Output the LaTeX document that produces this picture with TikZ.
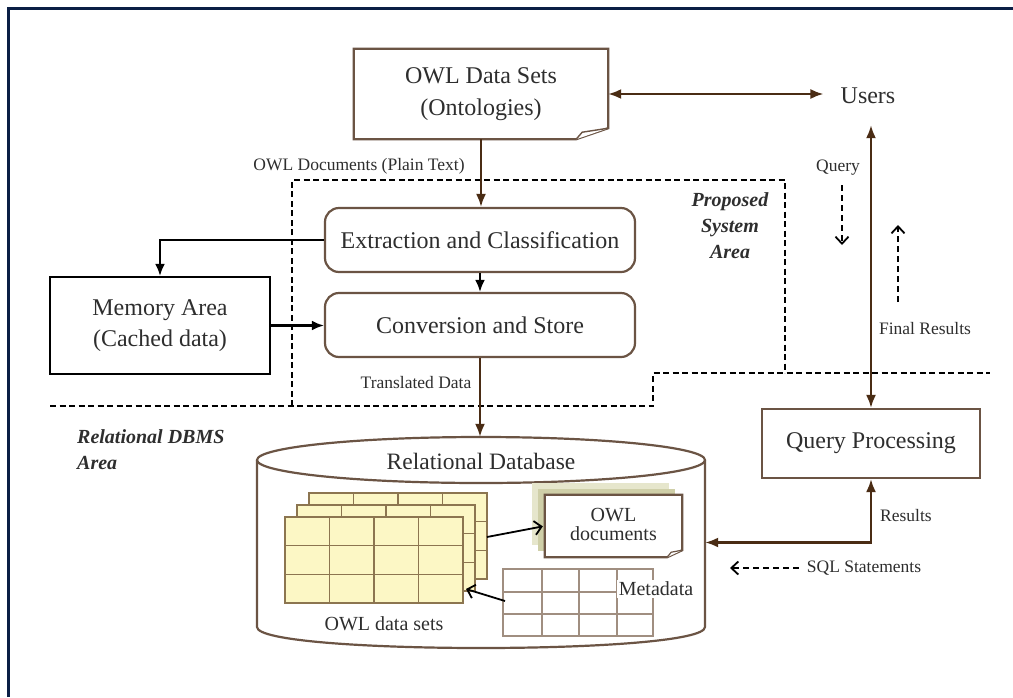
\documentclass[tikz,border=0pt]{standalone}
\usepackage{fontspec}
\setmainfont{Liberation Serif}
\usetikzlibrary{arrows.meta,calc}
\definecolor{frameblue}{HTML}{0B1F45}
\definecolor{darkbrown}{HTML}{4A2C14}
\definecolor{boxbrown}{HTML}{6B5444}
\definecolor{tablefill}{HTML}{FCF7C5}
\definecolor{tableline}{HTML}{8C7550}
\definecolor{metaline}{HTML}{A08E80}
\definecolor{shadelight}{HTML}{E6E6CC}
\definecolor{shadedark}{HTML}{CFCFA8}
\definecolor{inkgrey}{HTML}{2E2E2E}

\begin{document}
\begin{tikzpicture}[x=1pt,y=-1pt,
  every node/.style={text=inkgrey, inner sep=0pt},
  bigtext/.style={font=\fontsize{24}{32}\selectfont},
  midtext/.style={font=\fontsize{20}{19}\selectfont},
  smalltext/.style={font=\fontsize{17.5}{21}\selectfont},
  areatext/.style={font=\fontsize{20}{26}\selectfont\bfseries\itshape},
  roundbox/.style={draw=boxbrown, line width=2.2pt, rounded corners=14pt,
    minimum width=310pt, minimum height=64pt, bigtext},
  squarebox/.style={line width=2.2pt, bigtext, align=center},
  docline/.style={draw=boxbrown, line width=2.2pt, line join=miter},
  flow/.style={draw=darkbrown, line width=2.2pt, -{Latex[length=13pt,width=10pt]}},
  flowboth/.style={draw=darkbrown, line width=2.2pt,
    {Latex[length=13pt,width=10pt]}-{Latex[length=13pt,width=10pt]}},
  blackflow/.style={draw=black, line width=2.2pt, -{Latex[length=12pt,width=10pt]}},
  thinflow/.style={draw=black, line width=1.8pt, -{Straight Barb[length=7pt,width=14pt]}},
  hint/.style={draw=black, line width=1.8pt, dash pattern=on 6pt off 4pt,
    -{Straight Barb[length=7pt,width=13pt]}},
  zone/.style={draw=black, line width=1.6pt, dash pattern=on 6pt off 3.5pt},
  grid/.style={draw=tableline, line width=1.6pt},
]
\useasboundingbox (0,0) rectangle (1013,697);
\fill[white] (0,0) rectangle (1013,697);

% outer frame (top and left edges)
\draw[frameblue, line width=3pt] (8.5,697) -- (8.5,8.5) -- (1013,8.5);

% area boundaries
\draw[zone] (292,406) -- (292,180) -- (785,180) -- (785,373);
\draw[zone] (50,406) -- (653,406) -- (653,373) -- (990,373);

% OWL data sets document
\node[bigtext, align=center, minimum width=254pt, minimum height=90pt] (owl) at (481,94) {};
\draw[docline, fill=white] (owl.north west) -- (owl.north east) -- ($(owl.south east)+(0,-11)$)
  -- ($(owl.south east)+(-32,0)$) -- (owl.south west) -- cycle;
\draw[boxbrown, line width=1.4pt, fill=white] ($(owl.south east)+(-32,0)$) -- ($(owl.south east)+(-26,-7)$)
  -- ($(owl.south east)+(0,-11)$);
\node[bigtext, align=center] at (owl.center) {OWL Data Sets\\(Ontologies)};

% processing boxes
\node[roundbox] (ext) at (480,240) {Extraction and Classification};
\node[roundbox] (conv) at (480,325) {Conversion and Store};
\node[squarebox, draw=black, minimum width=220pt, minimum height=97pt,
  font=\fontsize{24}{31}\selectfont] (mem) at (160,325.5) {Memory Area\\(Cached data)};
\node[squarebox, draw=boxbrown, minimum width=218pt, minimum height=69pt] (qp) at (871,443.5) {Query Processing};
\node[bigtext, minimum height=58pt, inner xsep=17pt] (users) at (868,96) {Users};

% area captions
\node[areatext, align=center] (proparea) at (730,226) {Proposed\\System\\Area};
\node[areatext, align=left, anchor=west] (dbmsarea) at (77,450) {Relational DBMS\\Area};

% relational database cylinder
\node[minimum width=448pt, minimum height=211pt] (db) at (481,542.5) {};
\draw[boxbrown, line width=2.2pt, fill=white] (257,460) -- (257,627) .. controls (257,655) and (705,655) .. (705,627) -- (705,460);
\draw[boxbrown, line width=2.2pt, fill=white] (481,460) ellipse [x radius=224, y radius=23];
\node[font=\fontsize{23.5}{28}\selectfont] (dbtitle) at (481,461) {Relational Database};

% stacked OWL data set tables
\foreach \d in {24,12,0} {
  \begin{scope}[shift={(\d,-\d)}]
    \filldraw[grid, fill=tablefill] (285,517) rectangle (463,603);
    \foreach \c in {1,2,3} \draw[grid] (285+44.5*\c,517) -- (285+44.5*\c,603);
    \foreach \r in {1,2} \draw[grid] (285,517+28.67*\r) -- (463,517+28.67*\r);
  \end{scope}
}
\node[midtext] (setslbl) at (384,624) {OWL data sets};

% metadata table
\draw[metaline, line width=1.5pt] (503,569) rectangle (653,636);
\foreach \cx in {542,579,617} \draw[metaline, line width=1.5pt] (\cx,569) -- (\cx,636);
\foreach \ry in {592,614} \draw[metaline, line width=1.5pt] (503,\ry) -- (653,\ry);
\node[midtext, fill=white, inner sep=1.5pt] (metalbl) at (656,589) {Metadata};

% OWL documents with shadow
\fill[shadelight] (532,483) rectangle (669,545);
\fill[shadedark] (538,489) rectangle (675,551);
\node[minimum width=137pt, minimum height=62pt] (owldoc) at (613.5,526) {};
\draw[docline, fill=white] (owldoc.north west) -- (owldoc.north east) -- ($(owldoc.south east)+(0,-7)$)
  -- ($(owldoc.south east)+(-15,0)$) -- (owldoc.south west) -- cycle;
\draw[boxbrown, line width=1.2pt, fill=white] ($(owldoc.south east)+(-15,0)$) -- ($(owldoc.south east)+(-11,-5)$)
  -- ($(owldoc.south east)+(0,-7)$);
\node[midtext, align=center] at (613.5,524) {OWL\\documents};

% labels
\node[smalltext] (plainlbl) at (359,166) {OWL Documents (Plain Text)};
\node[smalltext] (translbl) at (416,383) {Translated Data};
\node[smalltext] (querylbl) at (838,168) {Query};
\node[smalltext] (finallbl) at (925,329) {Final Results};
\node[smalltext] (reslbl) at (906,516) {Results};
\node[smalltext] (sqllbl) at (864,568) {SQL Statements};

% main flow
\draw[flow] (owl.south) -- (owl.south |- ext.north);
\draw[flowboth] (owl.east) -- (owl.east -| users.west);
\draw[blackflow] (ext.south) -- (conv.north);
\draw[blackflow] (ext.west) -| (mem.north);
\draw[blackflow] (mem.east) -- (mem.east -| conv.west);
\draw[flow] (conv.south) -- (conv.south |- db.north);
\draw[flowboth] (qp.north) -- (qp.north |- users.south);
\draw[flowboth] (db.east) -| (qp.south);

% links inside the database
\coordinate (tblout) at (487,537);
\coordinate (tblin) at (466,589);
\coordinate (metaout) at (505,601);
\draw[thinflow, shorten >=2pt] (tblout) -- (owldoc.west);
\draw[thinflow] (metaout) -- (tblin);

% request and response hints
\coordinate (qstart) at (842,185);
\coordinate (qend) at (842,245);
\coordinate (fstart) at (898,302);
\coordinate (fend) at (898,225);
\coordinate (sqlend) at (730,568);
\draw[hint] (qstart) -- (qend);
\draw[hint] (fstart) -- (fend);
\draw[hint, shorten <=8pt] (sqllbl.west) -- (sqlend);
\end{tikzpicture}
\end{document}
